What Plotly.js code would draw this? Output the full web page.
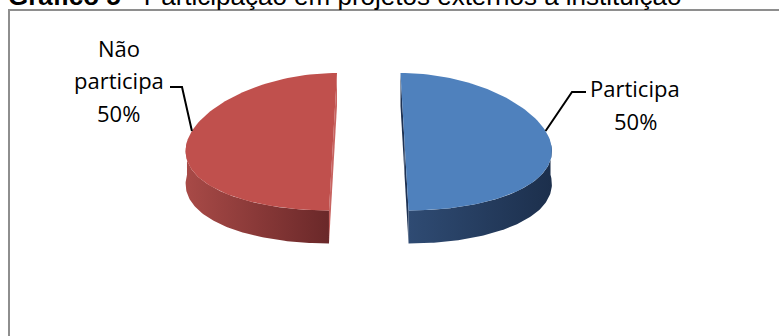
<!DOCTYPE html>
<html>
<head>
<meta charset="utf-8">
<script src="https://cdn.plot.ly/plotly-3.0.1.min.js"></script>
<style>
  html, body { margin: 0; padding: 0; background: #fff; }
  #chart { width: 779px; height: 336px; }
</style>
</head>
<body>
<div id="chart"></div>
<script>
// ---- data ----
const labels = ['Participa', 'Não participa'];
const values = [50, 50];
const topColors = ['#4f81bd', '#c0504d'];
const wallColors = [['#2f4b73', '#1c2f4c'], ['#a84a47', '#6a2829']];
const cutColors = ['#1e3253', '#c86461'];
const titleBold = 'Gráfico 5';
const titleRest = ' - Participação em projetos externos à instituição';

// ---- geometry (layout / style) ----
const W = 779, H = 336;
const CX = 368.75, CY = 141.75, RX = 146, RY = 68.75, DEPTH = 33;
const EXPLODE = 0.245, PERSP = 0.112;
const N = 90;
const deg = Math.PI / 180;

function project(u, v, z) {
  return [CX + RX * u * (1 + PERSP * v), CY + RY * v + z];
}

const total = values.reduce((a, b) => a + b, 0);
const slices = [];
let acc = 0;
values.forEach((val, i) => {
  const a0 = acc / total * 2 * Math.PI;
  acc += val;
  const a1 = acc / total * 2 * Math.PI;
  const mid = (a0 + a1) / 2;
  slices.push({ i, a0, a1, mid, eu: EXPLODE * Math.sin(mid), ev: -EXPLODE * Math.cos(mid) });
});

function rim(s, th, z) {
  return project(s.eu + Math.sin(th), s.ev - Math.cos(th), z);
}

function polyTrace(pts, opts) {
  return Object.assign({
    type: 'scatter', mode: 'lines', fill: 'toself',
    x: pts.map(p => p[0]), y: pts.map(p => p[1]),
    line: { width: 0, color: 'rgba(0,0,0,0)' },
    hoverinfo: 'skip', showlegend: false
  }, opts);
}

const traces = [];

// cut (radial) faces
slices.forEach(s => {
  [s.a0, s.a1].forEach(a => {
    const c0 = project(s.eu, s.ev, 0), c1 = project(s.eu, s.ev, DEPTH);
    const r0 = rim(s, a, 0), r1 = rim(s, a, DEPTH);
    traces.push(polyTrace([c0, r0, r1, c1, c0], { fillcolor: cutColors[s.i] }));
  });
});

// side walls (front part only)
slices.forEach(s => {
  const lo = Math.max(s.a0, Math.PI / 2), hi = Math.min(s.a1, 3 * Math.PI / 2);
  if (hi <= lo) return;
  const top = [], bot = [];
  for (let k = 0; k <= N; k++) {
    const th = lo + (hi - lo) * k / N;
    top.push(rim(s, th, 0));
    bot.push(rim(s, th, DEPTH));
  }
  const pts = top.concat(bot.reverse());
  pts.push(pts[0]);
  const xs = pts.map(p => p[0]);
  traces.push(polyTrace(pts, {
    fillcolor: wallColors[s.i][0],
    fillgradient: {
      type: 'horizontal',
      colorscale: [[0, wallColors[s.i][0]], [1, wallColors[s.i][1]]],
      start: s.eu < 0 ? Math.min(...xs) : Math.min(...xs),
      stop: Math.max(...xs)
    }
  }));
});

// top faces
slices.forEach(s => {
  const pts = [project(s.eu, s.ev, 0)];
  for (let k = 0; k <= N; k++) {
    const th = s.a0 + (s.a1 - s.a0) * k / N;
    pts.push(rim(s, th, 0));
  }
  pts.push(pts[0]);
  traces.push(polyTrace(pts, {
    fillcolor: topColors[s.i],
    name: labels[s.i],
    text: labels[s.i] + ' ' + Math.round(values[s.i] / total * 100) + '%',
    hoverinfo: 'text'
  }));
});

// labels + leader lines
const labelSpec = [
  { cx: 635, lines: [88, 120.5], elbow: [[586, 92], [572, 92]] },
  { cx: 118.5, lines: [48, 80, 113], elbow: [[170, 87], [182, 87]] }
];
const annotations = [];
slices.forEach(s => {
  const spec = labelSpec[s.i];
  const pct = Math.round(values[s.i] / total * 100) + '%';
  const words = labels[s.i].split(' ');
  const textLines = words.length > 1 ? words.concat([pct]) : [labels[s.i], pct];
  textLines.forEach((t, k) => {
    annotations.push({
      xref: 'x', yref: 'y', x: spec.cx, y: spec.lines[k], text: t,
      showarrow: false, xanchor: 'center', yanchor: 'middle',
      font: { family: 'Open Sans, sans-serif', size: 22, color: '#000' }
    });
  });
  const attach = rim(s, s.mid - 9 * deg * Math.sign(Math.sin(s.mid)), 0);
  const pts = spec.elbow.concat([attach]);
  traces.push({
    type: 'scatter', mode: 'lines',
    x: pts.map(p => p[0]), y: pts.map(p => p[1]),
    line: { color: '#000', width: 2 },
    hoverinfo: 'skip', showlegend: false
  });
});

const layout = {
  width: W, height: H,
  margin: { l: 0, r: 0, t: 0, b: 0 },
  paper_bgcolor: '#fff', plot_bgcolor: '#fff',
  showlegend: false,
  xaxis: { range: [0, W], visible: false, fixedrange: true },
  yaxis: { range: [H, 0], visible: false, fixedrange: true },
  title: {
    text: '<b>' + titleBold + '</b>' + titleRest,
    font: { family: 'Liberation Sans, Arial, sans-serif', size: 26, color: '#000' },
    xref: 'container', yref: 'container',
    x: 8 / W, xanchor: 'left',
    y: 1 - 5 / H, yanchor: 'bottom'
  },
  shapes: [{
    type: 'rect', xref: 'x', yref: 'y',
    x0: 9, y0: 10, x1: W + 20, y1: H + 20,
    line: { color: '#8e8e8e', width: 2 }, fillcolor: 'rgba(0,0,0,0)', layer: 'below'
  }],
  annotations
};

Plotly.newPlot('chart', traces, layout, { displayModeBar: false, staticPlot: true });
</script>
</body>
</html>
